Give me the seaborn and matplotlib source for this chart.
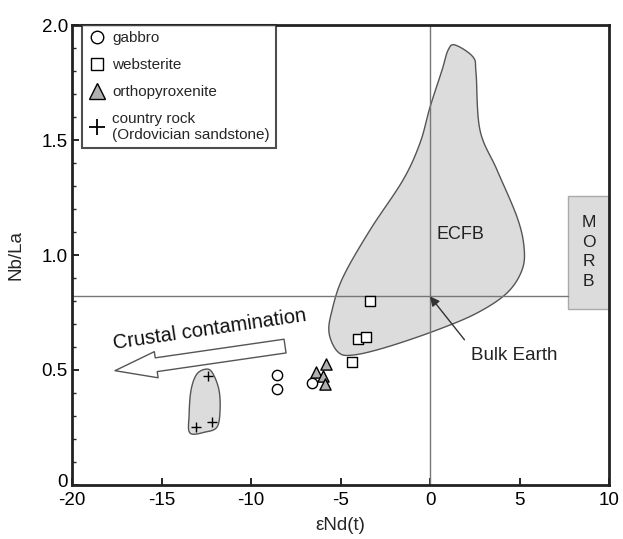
import numpy as np
import pandas as pd
import matplotlib
matplotlib.use("Agg")
import matplotlib.pyplot as plt
import seaborn as sns
from matplotlib.lines import Line2D
from matplotlib.patches import Polygon, Rectangle
import matplotlib.transforms as mtransforms

# ---------------- data ----------------
gabbro_x = [-8.55, -8.55, -6.6]
gabbro_y = [0.478, 0.417, 0.443]
webst_x = [-3.35, -4.0, -3.6, -4.35]
webst_y = [0.80, 0.635, 0.645, 0.535]
opx_x = [-5.8, -6.37, -6.0, -5.85]
opx_y = [0.526, 0.49, 0.475, 0.44]
crock_x = [-12.4, -13.1, -12.2]
crock_y = [0.474, 0.252, 0.274]

ecfb_x = [1.40, 2.40, 2.57, 2.79, 3.74, 4.86, 5.25, 5.14, 4.30, 2.63, 0.39, -2.40,
          -4.30, -5.14, -5.64, -5.47, -4.86, -3.35, -1.51, -0.56, 0.0, 0.67, 1.01]
ecfb_y = [1.913, 1.861, 1.791, 1.543, 1.370, 1.165, 1.035, 0.935, 0.835, 0.748, 0.674, 0.600,
          0.565, 0.578, 0.661, 0.761, 0.904, 1.109, 1.326, 1.487, 1.643, 1.804, 1.891]
crust_x = [-12.46, -12.12, -11.79, -11.73, -11.90, -12.57, -13.41, -13.46, -13.35, -13.02]
crust_y = [0.504, 0.483, 0.413, 0.326, 0.252, 0.230, 0.226, 0.304, 0.413, 0.483]

bulk_earth_x = 0.0
bulk_earth_y = 0.82
morb_x = [7.7, 10.0]
morb_y = [0.765, 1.257]

xticks = [-20, -15, -10, -5, 0, 5, 10]
yticks = [0, 0.5, 1.0, 1.5, 2.0]
yticklabels = ["0", "0.5", "1.0", "1.5", "2.0"]

# ---------------- helpers ----------------
def closed_spline(xs, ys, n=20):
    P = np.column_stack([xs, ys])
    m = len(P)
    out = []
    t = np.linspace(0, 1, n, endpoint=False)[:, None]
    for i in range(m):
        p0, p1, p2, p3 = P[(i - 1) % m], P[i], P[(i + 1) % m], P[(i + 2) % m]
        pts = 0.5 * ((2 * p1) + (-p0 + p2) * t + (2 * p0 - 5 * p1 + 4 * p2 - p3) * t ** 2
                     + (-p0 + 3 * p1 - 3 * p2 + p3) * t ** 3)
        out.append(pts)
    return np.vstack(out)

# ---------------- plot ----------------
sns.set_theme(style="white")
plt.rcParams["font.family"] = ["Liberation Sans", "DejaVu Sans"]

fig = plt.figure(figsize=(6.23, 5.39), dpi=100)
ax = fig.add_axes([0.1156, 0.1002, 0.862, 0.8534])

fill_c = "#dcdcdc"
edge_c = "#555555"

ax.add_patch(Polygon(closed_spline(ecfb_x, ecfb_y), closed=True, fc=fill_c, ec=edge_c, lw=1.0, zorder=1))
ax.add_patch(Polygon(closed_spline(crust_x, crust_y), closed=True, fc=fill_c, ec=edge_c, lw=1.0, zorder=1))
ax.add_patch(Rectangle((morb_x[0], morb_y[0]), morb_x[1] - morb_x[0], morb_y[1] - morb_y[0],
                       fc=fill_c, ec="#aaaaaa", lw=1.0, zorder=1))

ax.axvline(bulk_earth_x, color="#777777", lw=1.0, zorder=2)
ax.plot([-20, morb_x[0]], [bulk_earth_y, bulk_earth_y], color="#777777", lw=1.0, zorder=2)

df = pd.concat([
    pd.DataFrame({"x": gabbro_x, "y": gabbro_y, "rock": "gabbro"}),
    pd.DataFrame({"x": webst_x, "y": webst_y, "rock": "websterite"}),
    pd.DataFrame({"x": opx_x, "y": opx_y, "rock": "orthopyroxenite"}),
    pd.DataFrame({"x": crock_x, "y": crock_y, "rock": "country rock"}),
])

styles = {
    "gabbro": dict(marker="o", facecolor="white", edgecolor="black", s=55, linewidth=1.0),
    "websterite": dict(marker="s", facecolor="white", edgecolor="black", s=60, linewidth=1.0),
    "orthopyroxenite": dict(marker="^", facecolor="#b0b0b0", edgecolor="black", s=65, linewidth=1.0),
    "country rock": dict(marker="+", color="black", s=55, linewidth=1.0),
}
for rock, st in styles.items():
    sns.scatterplot(data=df[df.rock == rock], x="x", y="y", ax=ax, legend=False, zorder=4, **st)

# annotations
ax.text(1.7, 1.09, "ECFB", fontsize=13, ha="center", va="center", color="#222222")
ax.text(8.85, 1.013, "M\nO\nR\nB", fontsize=12.5, ha="center", va="center", linespacing=1.38, color="#222222")
ax.annotate("Bulk Earth", xy=(bulk_earth_x, bulk_earth_y), xytext=(2.3, 0.565),
            fontsize=13.5, ha="left", va="center", color="#222222",
            arrowprops=dict(arrowstyle="-|>", color="#333333", lw=1.0, mutation_scale=14,
                            shrinkA=4, shrinkB=0, relpos=(0.0, 0.9)))
ax.annotate("", xy=(-17.6, 0.497), xytext=(-8.1, 0.604),
            arrowprops=dict(arrowstyle="simple,head_length=1.5,head_width=0.95,tail_width=0.5",
                            mutation_scale=20, fc="white", ec="#555555", lw=1.0,
                            shrinkA=0, shrinkB=0))
ax.text(-12.3, 0.675, "Crustal contamination", fontsize=14.5, rotation=8.3,
        ha="center", va="center", color="#111111", rotation_mode="anchor")

# axes
ax.set_xlim(-20, 10)
ax.set_ylim(0, 2.0)
ax.set_xticks(xticks)
ax.set_xticklabels([str(v) for v in xticks])
ax.set_yticks(yticks)
ax.set_yticklabels(yticklabels)
ax.set_yticks(np.arange(0, 2.0001, 0.1), minor=True)
ax.tick_params(axis="both", which="major", direction="in", length=5, width=1.2,
               labelsize=13.5, colors="black", pad=3)
ax.tick_params(axis="x", which="major", pad=5)
ax.tick_params(axis="y", which="minor", direction="in", length=3, width=1.0, left=True)
ax.tick_params(axis="x", which="major", bottom=True)
ax.tick_params(axis="y", which="major", left=True)
# lift the "0" y label slightly, as in the reference
ylabs = ax.get_yticklabels()
ylabs[0].set_transform(ylabs[0].get_transform() + mtransforms.ScaledTranslation(0, 4 / 100, fig.dpi_scale_trans))
for sp in ax.spines.values():
    sp.set_linewidth(2.0)
    sp.set_color("#222222")
ax.set_xlabel("εNd(t)", fontsize=13.5, labelpad=6)
ax.set_ylabel("Nb/La", fontsize=13.5, labelpad=12)
ax.grid(False)

handles = [
    Line2D([], [], ls="", marker="o", mfc="white", mec="black", ms=9),
    Line2D([], [], ls="", marker="s", mfc="white", mec="black", ms=9),
    Line2D([], [], ls="", marker="^", mfc="#b0b0b0", mec="black", ms=11),
    Line2D([], [], ls="", marker="+", color="black", ms=11, mew=1.3),
]
labels = ["gabbro", "websterite", "orthopyroxenite", "country rock\n(Ordovician sandstone)"]
leg = ax.legend(handles, labels, loc="upper left", bbox_to_anchor=(0.018, 1.0), fontsize=11,
                frameon=True, fancybox=False, edgecolor="#222222", borderaxespad=0.0,
                handletextpad=0.4, handlelength=1.2, labelspacing=0.85, borderpad=0.4)
leg.get_frame().set_linewidth(1.5)

fig.savefig("out.png", dpi=100)
